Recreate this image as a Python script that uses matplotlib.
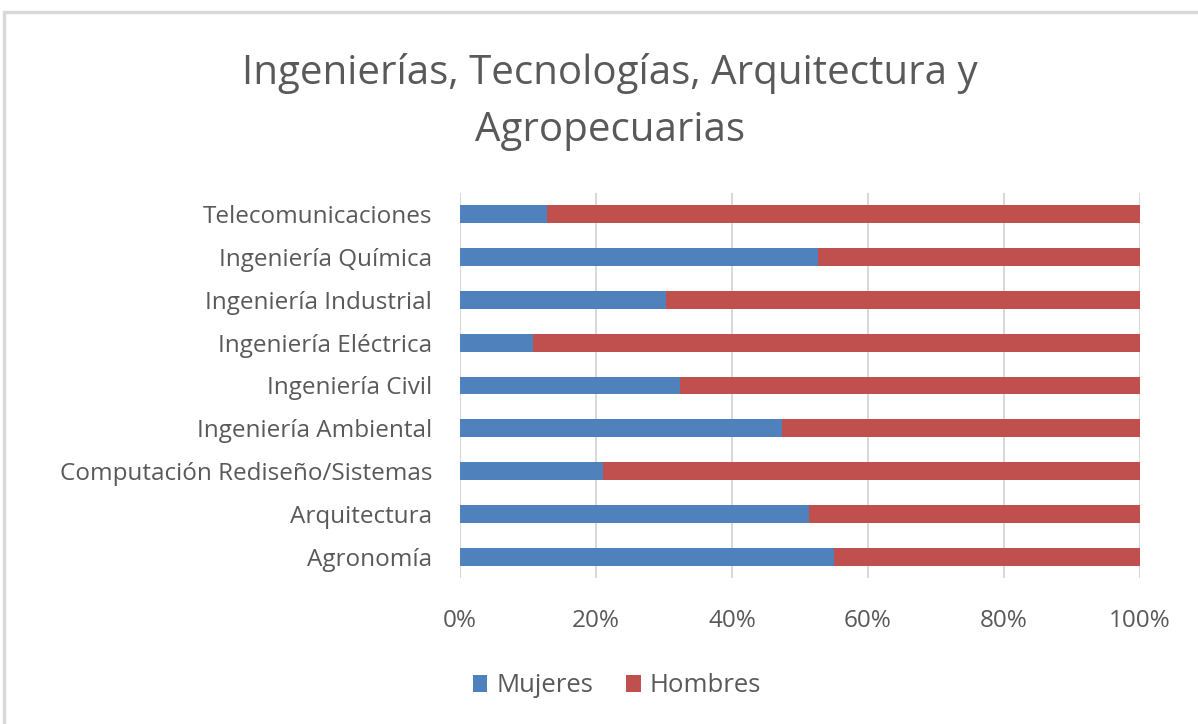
import numpy as np
import matplotlib.pyplot as plt
from matplotlib.patches import Rectangle
from matplotlib.ticker import PercentFormatter

plt.rcParams['font.family'] = ['Open Sans', 'DejaVu Sans']

carreras = ['Agronomía', 'Arquitectura', 'Computación Rediseño/Sistemas',
            'Ingeniería Ambiental', 'Ingeniería Civil', 'Ingeniería Eléctrica',
            'Ingeniería Industrial', 'Ingeniería Química', 'Telecomunicaciones']
mujeres = [55.0, 51.3, 21.1, 47.3, 32.4, 10.8, 30.3, 52.7, 12.8]
hombres = [100 - m for m in mujeres]
ticks = [0, 20, 40, 60, 80, 100]

gris = '#595959'
azul = '#4F81BD'
rojo = '#C0504D'

fig = plt.figure(figsize=(11.98, 7.24), dpi=100)
fig.patches.append(Rectangle((4 / 1198, -0.1), 1.2, (724 - 12) / 724 + 0.1,
                             transform=fig.transFigure, fill=False,
                             edgecolor='#D9D9D9', linewidth=2.5))

ax = fig.add_axes([460 / 1198, 1 - 578 / 724, 680 / 1198, 385 / 724])
y = np.arange(len(carreras))
ax.barh(y, mujeres, height=0.42, color=azul, label='Mujeres', zorder=3)
ax.barh(y, hombres, left=mujeres, height=0.42, color=rojo, label='Hombres', zorder=3)

ax.set_xlim(0, 100)
ax.set_ylim(-0.5, len(carreras) - 0.5)
ax.set_xticks(ticks)
ax.xaxis.set_major_formatter(PercentFormatter(decimals=0))
ax.set_yticks(y)
ax.set_yticklabels(carreras)
ax.grid(axis='x', color='#D9D9D9', linewidth=1.5, zorder=0)
for s in ax.spines.values():
    s.set_visible(False)
ax.tick_params(length=0, labelcolor=gris, labelsize=17.5)
ax.tick_params(axis='x', pad=22)
ax.tick_params(axis='y', pad=20)

fig.text(610 / 1198, 1 - 73 / 724, 'Ingenierías, Tecnologías, Arquitectura y',
         ha='center', va='center', fontsize=29, color=gris)
fig.text(610 / 1198, 1 - 131 / 724, 'Agropecuarias',
         ha='center', va='center', fontsize=29, color=gris)

fig.legend(loc='center', bbox_to_anchor=(617 / 1198, 1 - 686 / 724), ncol=2,
           frameon=False, fontsize=18.5, labelcolor=gris, handlelength=0.55,
           handleheight=0.6, handletextpad=0.35, columnspacing=1.3)

fig.savefig('out.png', dpi=100)
